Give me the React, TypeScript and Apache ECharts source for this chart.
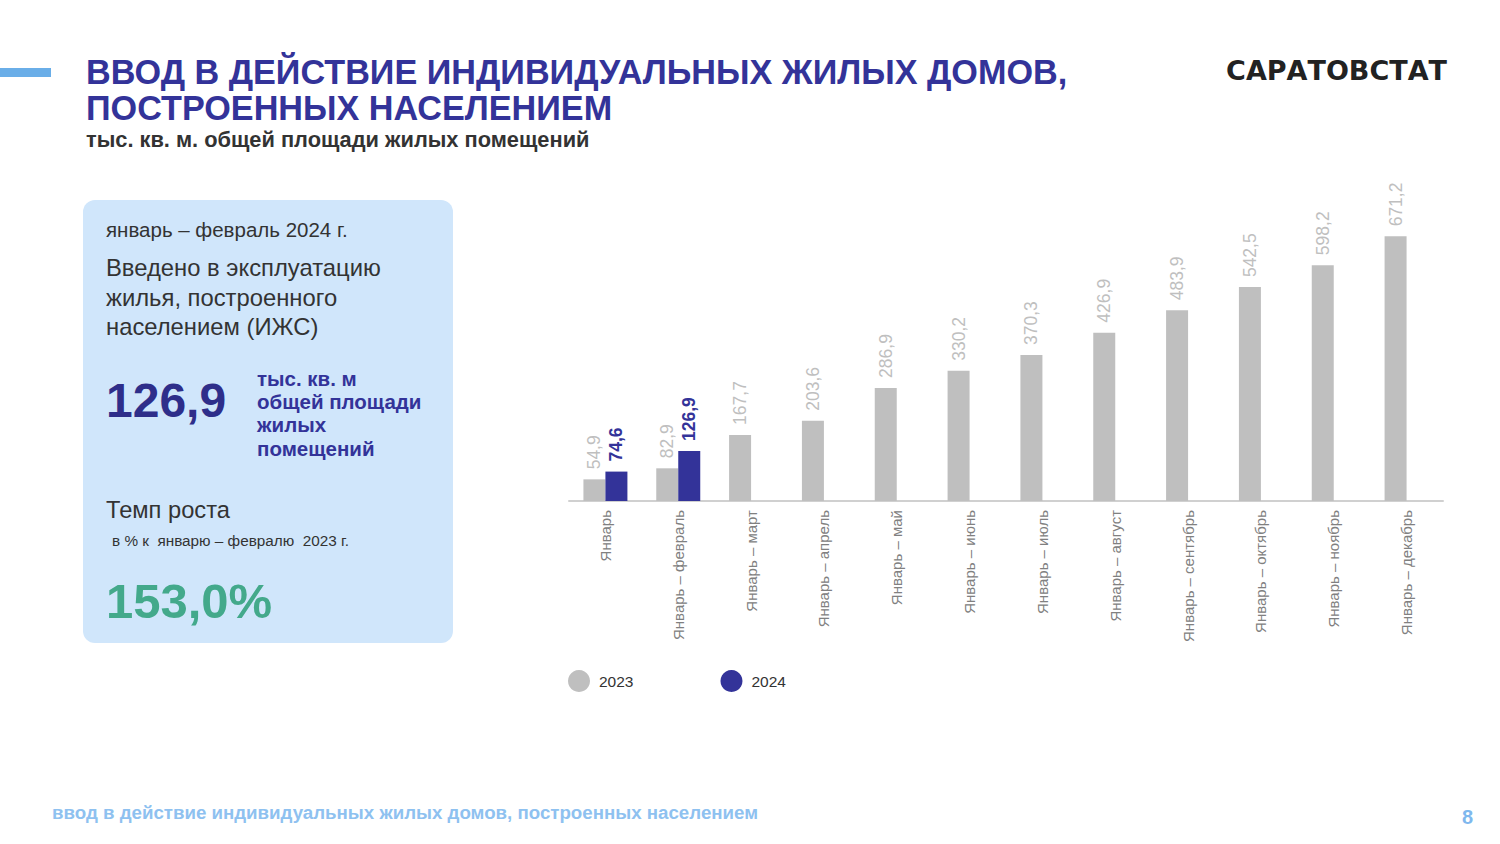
import React, { useEffect, useRef } from "react";
import * as echarts from "echarts";

const categories = [
  "Январь",
  "Январь – февраль",
  "Январь – март",
  "Январь – апрель",
  "Январь – май",
  "Январь – июнь",
  "Январь – июль",
  "Январь – август",
  "Январь – сентябрь",
  "Январь – октябрь",
  "Январь – ноябрь",
  "Январь – декабрь",
];
const values2023 = [54.9, 82.9, 167.7, 203.6, 286.9, 330.2, 370.3, 426.9, 483.9, 542.5, 598.2, 671.2];
const values2024: (number | null)[] = [74.6, 126.9, null, null, null, null, null, null, null, null, null, null];
const seriesNames = ["2023", "2024"];

const FONT = "'Liberation Sans', Arial, sans-serif";
const DARK_BLUE = "#333399";
const GRAY = "#bfbfbf";

const fmt = (p: any) => (p.value == null ? "" : String(p.value.toFixed(1)).replace(".", ","));

export default function App() {
  const ref = useRef<HTMLDivElement>(null);
  useEffect(() => {
    if (!ref.current) return;
    const chart = echarts.init(ref.current, null, { renderer: "svg" });
    const txt = (x: number, y: number, text: string, size: number, color: string, weight = "normal", extra: any = {}) => ({
      type: "text",
      x,
      y,
      style: {
        text,
        fontSize: size,
        fontWeight: weight,
        fill: color,
        fontFamily: FONT,
        textVerticalAlign: "middle",
        ...extra,
      },
    });
    chart.setOption({
      animation: false,
      backgroundColor: "#ffffff",
      textStyle: { fontFamily: FONT },
      grid: { left: 569, right: 57, top: 225, bottom: 343 },
      legend: {
        left: 563,
        top: 665,
        icon: "circle",
        itemWidth: 22,
        itemHeight: 22,
        itemGap: 87,
        textStyle: { fontSize: 15.5, color: "#333333", fontFamily: FONT, padding: [0, 0, 0, 4] },
        data: seriesNames,
      },
      xAxis: {
        type: "category",
        data: categories,
        axisLine: { lineStyle: { color: "#d0d0d0", width: 2 } },
        axisTick: { show: false },
        axisLabel: { rotate: 90, fontSize: 15, color: "#808080", margin: 9, interval: 0, fontFamily: FONT },
      },
      yAxis: { type: "value", min: 0, max: 700, show: false, splitLine: { show: false } },
      series: [
        {
          name: seriesNames[0],
          type: "bar",
          data: values2023,
          barWidth: 22,
          barGap: "0%",
          itemStyle: { color: GRAY },
          label: {
            show: true,
            position: "top",
            rotate: 90,
            align: "left",
            verticalAlign: "middle",
            distance: 10,
            fontSize: 17.5,
            color: GRAY,
            fontFamily: FONT,
            formatter: fmt,
          },
        },
        {
          name: seriesNames[1],
          type: "bar",
          data: values2024,
          barWidth: 22,
          barGap: "0%",
          itemStyle: { color: DARK_BLUE },
          label: {
            show: true,
            position: "top",
            rotate: 90,
            align: "left",
            verticalAlign: "middle",
            distance: 10,
            fontSize: 17.5,
            fontWeight: "bold",
            color: DARK_BLUE,
            fontFamily: FONT,
            formatter: fmt,
          },
        },
      ],
      graphic: [
        { type: "rect", shape: { x: 0, y: 68, width: 51, height: 9 }, style: { fill: "#6aaee8" } },
        txt(86, 72, "ВВОД В ДЕЙСТВИЕ ИНДИВИДУАЛЬНЫХ ЖИЛЫХ ДОМОВ,", 34.2, DARK_BLUE, "bold"),
        txt(86, 108, "ПОСТРОЕННЫХ НАСЕЛЕНИЕМ", 34.2, DARK_BLUE, "bold"),
        txt(86, 139, "тыс. кв. м. общей площади жилых помещений", 21.8, "#333333", "bold"),
        txt(1447, 70, "САРАТОВСТАТ", 27, "#222222", "bold", { textAlign: "right", fontFamily: "'DejaVu Sans', sans-serif" }),
        { type: "rect", shape: { x: 83, y: 200, width: 370, height: 443, r: 12 }, style: { fill: "#d0e6fb" } },
        txt(106, 229, "январь – февраль 2024 г.", 20.5, "#333333"),
        txt(106, 267, "Введено в эксплуатацию", 23.8, "#333333"),
        txt(106, 297, "жилья, построенного", 23.8, "#333333"),
        txt(106, 326, "населением (ИЖС)", 23.8, "#333333"),
        txt(106, 400, "126,9", 48, "#2e2e8a", "bold"),
        txt(257, 378, "тыс. кв. м", 20.5, DARK_BLUE, "bold"),
        txt(257, 401, "общей площади", 20.5, DARK_BLUE, "bold"),
        txt(257, 424, "жилых", 20.5, DARK_BLUE, "bold"),
        txt(257, 448, "помещений", 20.5, DARK_BLUE, "bold"),
        txt(106, 510, "Темп роста", 23.7, "#333333"),
        txt(112, 540, "в % к  январю – февралю  2023 г.", 15.3, "#333333"),
        txt(106, 601, "153,0%", 49, "#43a98b", "bold"),
        txt(52, 812, "ввод в действие индивидуальных жилых домов, построенных населением", 18.7, "#8ec1f0", "bold"),
        txt(1462, 817, "8", 20, "#7fb8ee", "bold"),
      ],
    });
    return () => chart.dispose();
  }, []);
  return <div ref={ref} style={{ position: "fixed", left: 0, top: 0, width: 1500, height: 844 }} />;
}
